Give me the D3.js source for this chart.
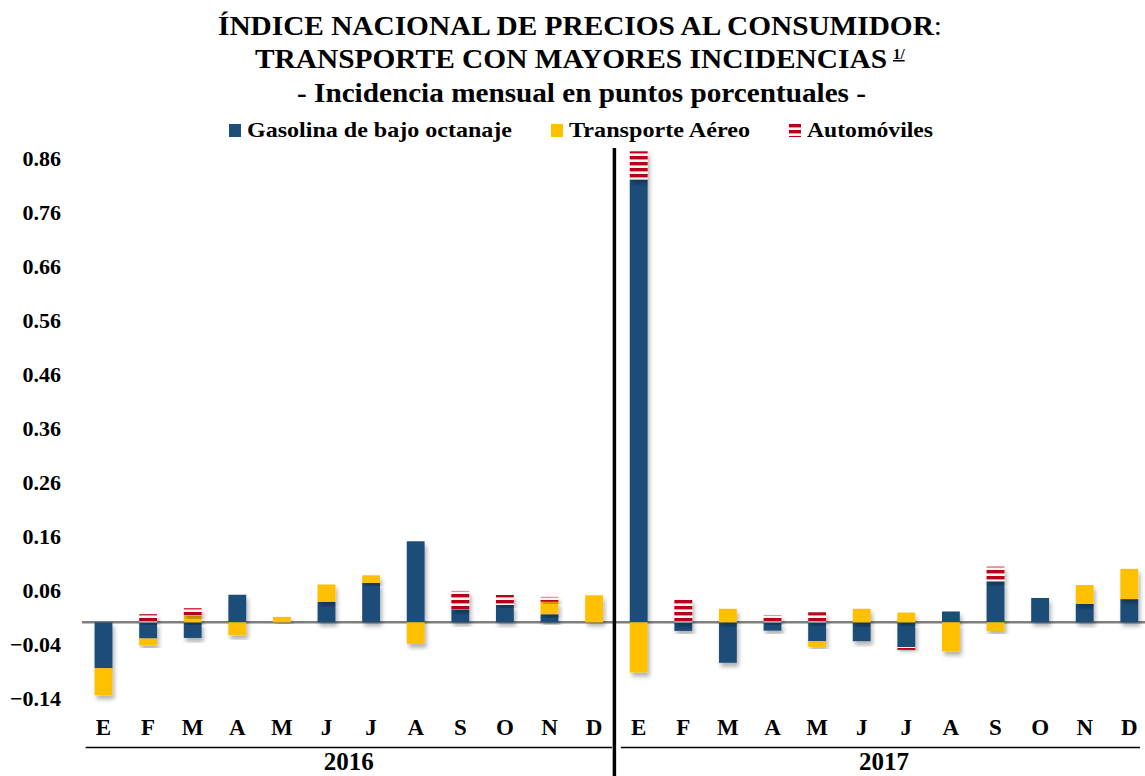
<!DOCTYPE html>
<html>
<head>
<meta charset="utf-8">
<script src="https://cdn.jsdelivr.net/npm/d3@7"></script>
<style>
  body { margin: 0; background: #fff; }
  svg { display: block; }
  svg text { font-family: "Liberation Serif", "Times New Roman", serif; font-weight: bold; fill: #000; }
</style>
</head>
<body>
<div id="chart"></div>
<script>
// datos (puntos porcentuales)
const meses = ["E", "F", "M", "A", "M", "J", "J", "A", "S", "O", "N", "D"];
const anios = ["2016", "2017"];
const gasolina = [-0.085, -0.030, -0.029, 0.051, 0, 0.038, 0.073, 0.150, 0.024, 0.032, 0.015, 0,
                  0.820, -0.016, -0.075, -0.0155, -0.035, -0.035, -0.046, 0.020, 0.076, 0.045, 0.034, 0.043];
const aereo = [-0.050, -0.013, 0.012, -0.024, 0.010, 0.032, 0.014, -0.040, 0, 0, 0.023, 0.050,
               -0.093, 0, 0.025, 0, -0.0105, 0.025, 0.018, -0.054, -0.016, 0, 0.035, 0.056];
const autos = [0, 0.015, 0.014, 0, 0, 0, 0, 0, 0.034, 0.0185, 0.009, 0,
               0.052, 0.043, 0, 0.0135, 0.0185, 0, -0.005, 0, 0.027, 0, 0, 0];
const yTicks = [0.86, 0.76, 0.66, 0.56, 0.46, 0.36, 0.26, 0.16, 0.06, -0.04, -0.14];
const series = ["Gasolina de bajo octanaje", "Transporte Aéreo", "Automóviles"];

const W = 1145, H = 776;

let rows = [];
anios.forEach(function (a, ai) {
    meses.forEach(function (m, mi) {
        let i = ai * 12 + mi;
        let r = { id: a + "-" + mi, mes: m, anio: a };
        r[series[0]] = gasolina[i];
        r[series[1]] = aereo[i];
        r[series[2]] = autos[i];
        rows.push(r);
    });
});

let svg = d3.select("#chart").append("svg")
    .attr("width", W)
    .attr("height", H);

let defs = svg.append("defs");

// rayas rojas/blancas de Automoviles
function rayas(id, y0) {
    let p = defs.append("pattern")
        .attr("id", id)
        .attr("patternUnits", "userSpaceOnUse")
        .attr("y", y0)
        .attr("width", 8)
        .attr("height", 6);
    p.append("rect").attr("width", 8).attr("height", 6).attr("fill", "#fff6ee");
    p.append("rect").attr("width", 8).attr("height", 3.4).attr("fill", "#b8001c");
}
rayas("rayas", 0);
rayas("rayasLey", 124);

let sombra = defs.append("filter")
    .attr("id", "sombra")
    .attr("x", "-30%").attr("y", "-30%")
    .attr("width", "160%").attr("height", "160%");
sombra.append("feDropShadow")
    .attr("dx", 2).attr("dy", 4)
    .attr("stdDeviation", 2.2)
    .attr("flood-color", "#000")
    .attr("flood-opacity", 0.3);

let x = d3.scaleBand()
    .domain(rows.map(d => d.id))
    .range([81.2, 1151.6])
    .paddingInner(0.6)
    .paddingOuter(0.3);

let y = d3.scaleLinear()
    .domain([-0.165, 0.88])
    .range([711.4, 147]);

let color = d3.scaleOrdinal()
    .domain(series)
    .range(["#1f4e79", "#ffc000", "url(#rayas)"]);

let stack = d3.stack()
    .keys(series)
    .offset(d3.stackOffsetDiverging);

// linea cero
svg.append("line")
    .attr("x1", 82).attr("x2", W)
    .attr("y1", y(0)).attr("y2", y(0))
    .attr("stroke", "#7f7f7f")
    .attr("stroke-width", 2.5);

let capas = svg.selectAll(".serie")
    .data(stack(rows))
    .enter().append("g")
    .attr("class", "serie")
    .attr("fill", d => color(d.key));

capas.selectAll("rect")
    .data(d => d.filter(p => p[1] !== p[0]))
    .enter().append("rect")
    .attr("x", d => x(d.data.id))
    .attr("width", x.bandwidth())
    .attr("y", d => y(Math.max(d[0], d[1])))
    .attr("height", d => Math.abs(y(d[0]) - y(d[1])))
    .attr("filter", "url(#sombra)");

// eje y
let ejeY = svg.append("g")
    .attr("transform", "translate(61,0)")
    .call(d3.axisLeft(y).tickValues(yTicks).tickSize(0).tickPadding(0)
        .tickFormat(d3.format(".2f")));
ejeY.select(".domain").remove();
ejeY.attr("font-family", null).attr("font-size", null);
ejeY.selectAll("text")
    .style("font-size", "22px")
    .attr("dy", "0.36em");

// etiquetas de mes
svg.append("g")
    .selectAll("text")
    .data(rows)
    .enter().append("text")
    .attr("x", d => x(d.id) + x.bandwidth() / 2)
    .attr("y", 735)
    .attr("text-anchor", "middle")
    .style("font-size", "23px")
    .text(d => d.mes);

// anios y sus lineas
let paso = x.step();
anios.forEach(function (a) {
    let ids = rows.filter(r => r.anio === a).map(r => r.id);
    let x0 = x(ids[0]) - paso * 0.2;
    let x1 = x(ids[ids.length - 1]) + x.bandwidth() + paso * 0.2;
    svg.append("line")
        .attr("x1", x0).attr("x2", Math.min(x1, W - 5))
        .attr("y1", 747.5).attr("y2", 747.5)
        .attr("stroke", "#000").attr("stroke-width", 1.5);
    svg.append("text")
        .attr("x", (x0 + x1) / 2)
        .attr("y", 770)
        .attr("text-anchor", "middle")
        .style("font-size", "25px")
        .text(a);
});

// separador vertical entre anios
let xSep = x(rows[12].id) - (x.step() - x.bandwidth()) / 2 - 2;
svg.append("line")
    .attr("x1", xSep).attr("x2", xSep)
    .attr("y1", 148).attr("y2", H)
    .attr("stroke", "#000").attr("stroke-width", 3.5);

// titulo
let t1 = svg.append("text")
    .attr("x", 218).attr("y", 35)
    .attr("textLength", 724).attr("lengthAdjust", "spacingAndGlyphs")
    .style("font-size", "27px");
t1.append("tspan").text("ÍNDICE NACIONAL DE PRECIOS AL CONSUMIDOR");
t1.append("tspan").style("font-weight", "normal").text(":");

svg.append("text")
    .attr("x", 255).attr("y", 68)
    .attr("textLength", 632).attr("lengthAdjust", "spacingAndGlyphs")
    .style("font-size", "27px")
    .text("TRANSPORTE CON MAYORES INCIDENCIAS");
svg.append("text")
    .attr("x", 893).attr("y", 59)
    .style("font-size", "15px")
    .style("text-decoration", "underline")
    .text("1/");

svg.append("text")
    .attr("x", 297).attr("y", 102)
    .attr("textLength", 569).attr("lengthAdjust", "spacingAndGlyphs")
    .style("font-size", "27px")
    .text("- Incidencia mensual en puntos porcentuales -");

// leyenda
let leyenda = [
    { x: 229, w: 265, fill: "#1f4e79" },
    { x: 551, w: 181, fill: "#ffc000" },
    { x: 789, w: 126, fill: "url(#rayasLey)" }
];
let ley = svg.selectAll(".leyenda")
    .data(series)
    .enter().append("g")
    .attr("class", "leyenda")
    .attr("transform", (d, i) => "translate(" + leyenda[i].x + ",0)");
ley.append("rect")
    .attr("y", 124)
    .attr("width", 12).attr("height", 13)
    .attr("fill", (d, i) => leyenda[i].fill);
ley.append("text")
    .attr("x", 18).attr("y", 137)
    .attr("textLength", (d, i) => leyenda[i].w)
    .attr("lengthAdjust", "spacingAndGlyphs")
    .style("font-size", "21px")
    .text(d => d);
</script>
</body>
</html>
